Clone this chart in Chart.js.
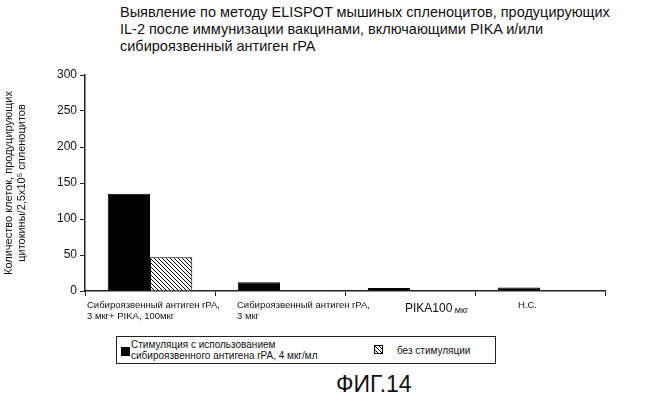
<!DOCTYPE html><html><head><meta charset="utf-8">
<script src="https://cdn.jsdelivr.net/npm/chart.js@4"></script>
<style>
body{margin:0;width:650px;height:405px;background:#fff;font-family:"Liberation Sans",Arial,sans-serif;position:relative;overflow:hidden}
#t{position:absolute;left:120px;top:4px;font-size:14.5px;line-height:17px;color:#111}
#c{position:absolute;left:0;top:60px}
#lg{position:absolute;left:116px;top:336px;width:378px;height:26px;border:1.5px solid #222;font-size:10px;line-height:11px;color:#111}
#f{position:absolute;left:336px;top:371px;font-size:23px;color:#111}
</style></head><body>
<div id="t">Выявление по методу ELISPOT мышиных спленоцитов, продуцирующих<br>IL-2 после иммунизации вакцинами, включающими PIKA и/или<br>сибироязвенный антиген rPA</div>
<canvas id="c" width="620" height="275"></canvas>
<div id="lg">
<div style="position:absolute;left:4px;top:10px;width:9px;height:9px;background:#000"></div>
<div style="position:absolute;left:14px;top:2px">Стимуляция с использованием<br>сибироязвенного антигена rPA, 4 мкг/мл</div>
<canvas id="hp" width="9" height="9" style="position:absolute;left:257px;top:8px"></canvas>
<div style="position:absolute;left:280px;top:8px">без стимуляции</div>
</div>
<div id="f">ФИГ.14</div>
<script>
const categories=[["Сибироязвенный антиген rPA,","3 мкг+ PIKA, 100мкг"],["Сибироязвенный антиген rPA,","3 мкг"],["PIKA100 мкг"],["Н.С."]];
const stimulated=[135,12,4,5];
const unstimulated=[47,1,1,0];
const yTicks=[0,50,100,150,200,250,300];
const labelShift=[-63,-43,-5,-22];
function hatch(){const p=document.createElement('canvas');p.width=4;p.height=4;const g=p.getContext('2d');g.fillStyle='#fff';g.fillRect(0,0,4,4);g.strokeStyle='#000';g.lineWidth=1;g.beginPath();g.moveTo(0,0);g.lineTo(4,4);g.moveTo(-1,3);g.lineTo(1,5);g.moveTo(3,-1);g.lineTo(5,1);g.stroke();return p;}
const hp=document.getElementById('hp').getContext('2d');hp.fillStyle=hp.createPattern(hatch(),'repeat');hp.fillRect(0,0,9,9);hp.strokeRect(0.5,0.5,8,8);
const ctx=document.getElementById('c').getContext('2d');
const pat=ctx.createPattern(hatch(),'repeat');
const labelPlugin={id:'lbl',afterDraw(ch){const x=ch.scales.x,c=ch.ctx;c.save();c.fillStyle='#111';c.textBaseline='top';
categories.forEach((l,i)=>{const left=x.getPixelForValue(i)+labelShift[i];const y=x.top+10;
if(i===2){c.font='12px "Liberation Sans"';c.fillText('PIKA100',left,y+2);const w=c.measureText('PIKA100').width;c.font='9px "Liberation Sans"';c.fillText(' мкг',left+w,y+5);}
else{c.font='9.5px "Liberation Sans"';l.forEach((s,k)=>c.fillText(s,left,y+k*11));}});c.restore();}};
new Chart(ctx,{type:'bar',data:{labels:categories.map(c=>c.join(' ')),datasets:[
{label:'Стимуляция',data:stimulated,backgroundColor:'#000',borderColor:'#000',borderWidth:1},
{label:'без стимуляции',data:unstimulated,backgroundColor:pat,borderColor:'#000',borderWidth:1}]},
options:{responsive:false,animation:false,layout:{padding:{top:15,right:15}},
datasets:{bar:{categoryPercentage:0.65,barPercentage:1}},
plugins:{legend:{display:false},tooltip:{enabled:false}},
scales:{x:{afterFit:s=>{s.height=44},border:{color:'#222',width:1.5},grid:{offset:true,drawOnChartArea:false,tickLength:5,color:'#222'},ticks:{display:false}},
y:{min:0,max:300,afterFit:s=>{s.width=85},border:{color:'#222',width:1.5},grid:{drawOnChartArea:false,tickLength:5,color:'#222'},
afterBuildTicks:s=>{s.ticks=yTicks.map(v=>({value:v}))},
ticks:{color:'#111',font:{size:12,family:'Liberation Sans'},padding:3},
title:{display:true,text:['Количество клеток, продуцирующих','цитокины/2,5x10⁵ спленоцитов'],color:'#111',font:{size:11,family:'Liberation Sans'},padding:2}}}},
plugins:[labelPlugin]});
</script></body></html>
